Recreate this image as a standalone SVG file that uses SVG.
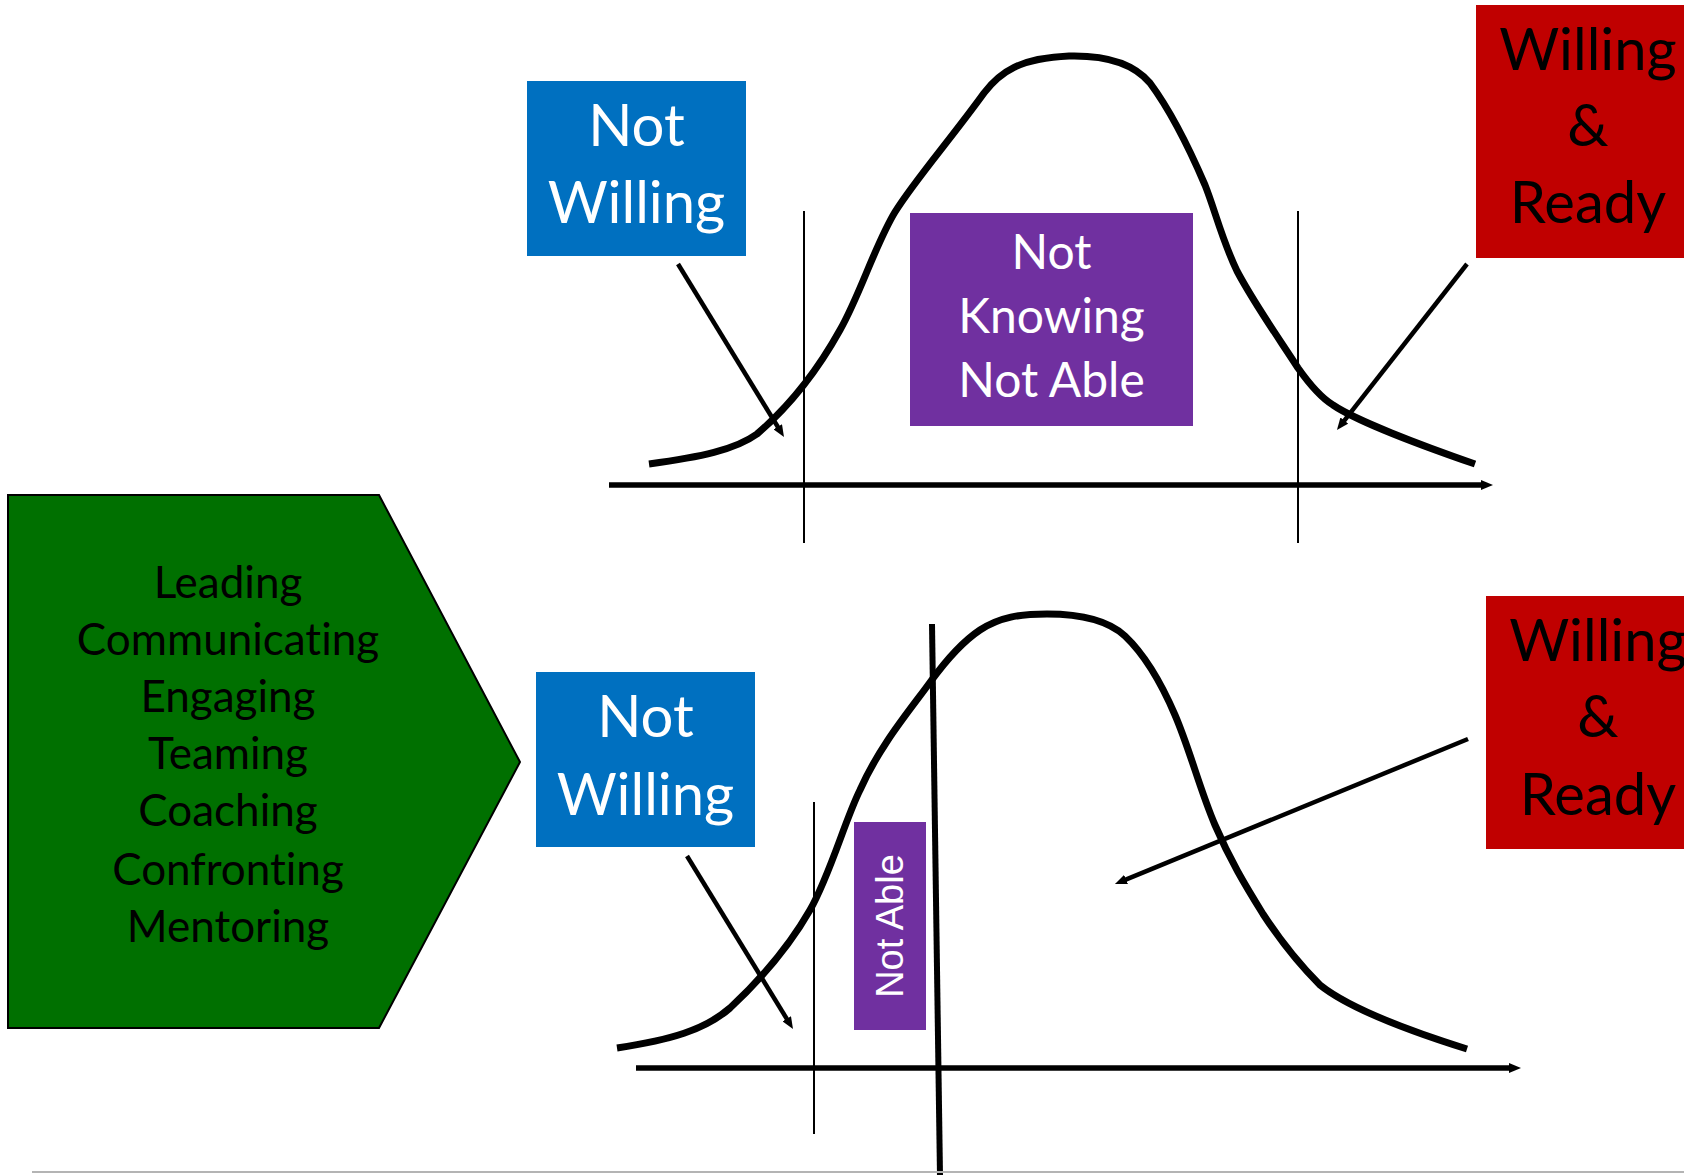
<svg xmlns="http://www.w3.org/2000/svg" width="1684" height="1175" viewBox="0 0 1684 1175">
  <style>
    .box-blue { fill: #0070C0; }
    .box-purple { fill: #7030A0; }
    .box-red { fill: #C00000; }
    .lbl { font-family: Lato, "Open Sans", sans-serif; text-anchor: middle; font-variant-ligatures: none; font-feature-settings: "liga" 0; }
    .white { fill: #ffffff; }
    .black { fill: #000000; }
    .curve { fill: none; stroke: #000; stroke-width: 7; stroke-linejoin: round; }
    .axis { fill: none; stroke: #000; stroke-width: 5.5; }
    .guide { fill: none; stroke: #000; stroke-width: 2; }
    .pointer { fill: none; stroke: #000; stroke-width: 4.5; }
  </style>
  <defs>
    <marker id="head" viewBox="0 0 12 10" refX="3" refY="5" markerWidth="12" markerHeight="10" markerUnits="userSpaceOnUse" orient="auto">
      <path d="M0,0 L12,5 L0,10 z" fill="#000"/>
    </marker>
  </defs>

  <rect width="1684" height="1175" fill="#ffffff"/>

  <!-- skills chevron -->
  <g id="skills">
    <polygon points="8,495 379,495 520,762 379,1028 8,1028" fill="#007000" stroke="#000" stroke-width="2"/>
    <text class="lbl black" font-size="44"><tspan x="228" y="598">Leading</tspan><tspan x="228" y="655">Communicating</tspan><tspan x="228" y="712">Engaging</tspan><tspan x="228" y="769">Teaming</tspan><tspan x="228" y="826">Coaching</tspan><tspan x="228" y="885">Confronting</tspan><tspan x="228" y="942">Mentoring</tspan></text>
  </g>

  <!-- upper distribution -->
  <g id="top-curve">
    <path class="curve" d="M649,464 C700,457 735,450 757,434 C785,410 815,375 840,330 C860,295 875,245 895,212 C915,180 950,140 984,93 C1000,72 1020,58 1069,56 C1110,55 1135,65 1150,83 C1170,110 1190,150 1205,185 C1215,210 1222,240 1237,271 C1255,305 1280,340 1298,368 C1310,385 1320,397 1333,405 C1355,420 1420,445 1475,464"/>
  </g>
  <g id="top-not-willing">
    <rect class="box-blue" x="527" y="81" width="219" height="175"/>
    <text class="lbl white" font-size="58"><tspan x="636.5" y="146">Not</tspan><tspan x="636.5" y="223">Willing</tspan></text>
  </g>
  <g id="top-not-knowing">
    <rect class="box-purple" x="910" y="213" width="283" height="213"/>
    <text class="lbl white" font-size="48"><tspan x="1051.5" y="269">Not</tspan><tspan x="1051.5" y="333">Knowing</tspan><tspan x="1051.5" y="397">Not Able</tspan></text>
  </g>
  <g id="top-willing-ready">
    <rect class="box-red" x="1476" y="5" width="224" height="253"/>
    <text class="lbl black" font-size="58"><tspan x="1588" y="70">Willing</tspan><tspan x="1588" y="146">&amp;</tspan><tspan x="1588" y="223">Ready</tspan></text>
  </g>

  <!-- lower distribution -->
  <g id="bottom-curve">
    <path class="curve" d="M617,1048 C670,1040 705,1030 730,1008 C760,980 790,945 810,910 C830,875 845,820 860,790 C880,745 910,710 931,681 C950,655 965,640 980,630 C1000,617 1020,614 1047,614 C1085,614 1110,622 1125,636 C1145,655 1160,680 1175,715 C1190,750 1200,790 1215,825 C1230,860 1245,885 1263,914 C1280,940 1300,965 1320,985 C1345,1005 1400,1028 1467,1049"/>
  </g>
  <g id="bottom-not-willing">
    <rect class="box-blue" x="536" y="672" width="219" height="175"/>
    <text class="lbl white" font-size="58"><tspan x="645.5" y="737">Not</tspan><tspan x="645.5" y="815">Willing</tspan></text>
  </g>
  <g id="bottom-not-able">
    <rect class="box-purple" x="854" y="822" width="72" height="208"/>
    <text class="white" font-family="'Liberation Sans', Arial, sans-serif" font-size="38" text-anchor="middle" transform="translate(903,926) rotate(-90)">Not Able</text>
  </g>
  <g id="bottom-willing-ready">
    <rect class="box-red" x="1486" y="596" width="224" height="253"/>
    <text class="lbl black" font-size="58"><tspan x="1598" y="661">Willing</tspan><tspan x="1598" y="737">&amp;</tspan><tspan x="1598" y="815">Ready</tspan></text>
  </g>

  <!-- axes, dividers and pointers -->
  <g id="connectors">
    <line class="axis" x1="609" y1="485" x2="1484" y2="485" marker-end="url(#head)"/>
    <line class="guide" x1="804" y1="211" x2="804" y2="543"/>
    <line class="guide" x1="1298" y1="211" x2="1298" y2="543"/>
    <line class="pointer" x1="678" y1="264" x2="779.3" y2="429.3" marker-end="url(#head)"/>
    <line class="pointer" x1="1467" y1="264" x2="1342.5" y2="422.9" marker-end="url(#head)"/>

    <line class="axis" x1="636" y1="1068" x2="1512" y2="1068" marker-end="url(#head)"/>
    <line class="guide" x1="814" y1="802" x2="814" y2="1134"/>
    <line fill="none" stroke="#000" stroke-width="6" x1="932" y1="624" x2="940" y2="1175"/>
    <line class="pointer" x1="687" y1="856" x2="788.3" y2="1021.3" marker-end="url(#head)"/>
    <line class="pointer" x1="1468" y1="739" x2="1123.3" y2="880.6" marker-end="url(#head)"/>

    <line x1="32" y1="1172" x2="1684" y2="1172" stroke="#b4b4b4" stroke-width="2"/>
  </g>
</svg>
